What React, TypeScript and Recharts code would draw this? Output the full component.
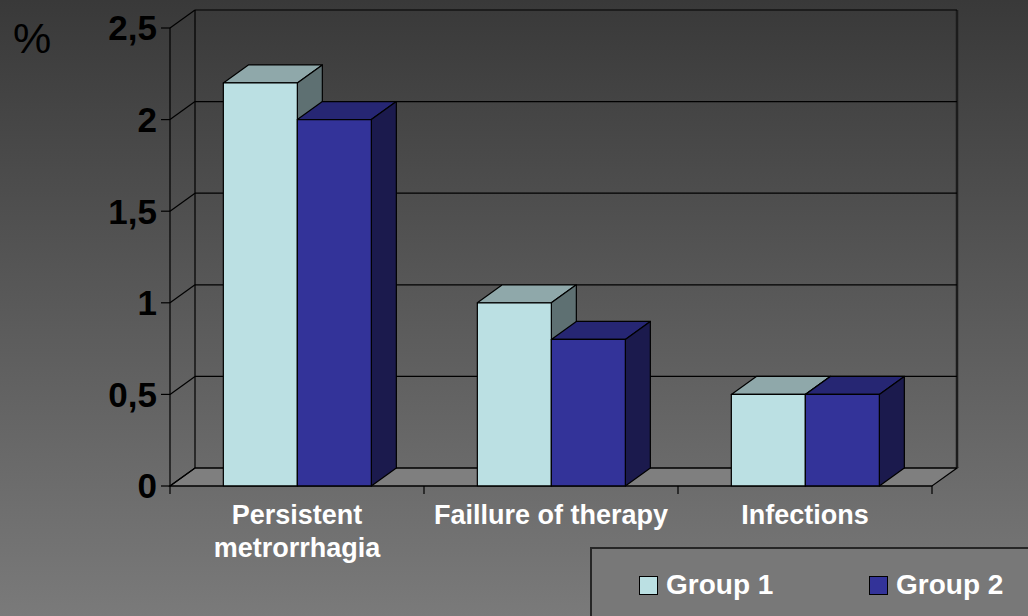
import React from 'react';
import { BarChart, Bar, XAxis, YAxis, ReferenceArea, ReferenceLine, Legend } from 'recharts';

const categories = ['Persistent metrorrhagia', 'Faillure of therapy', 'Infections'];
const group1 = [2.2, 1.0, 0.5];
const group2 = [2.0, 0.8, 0.5];
const seriesNames = ['Group 1', 'Group 2'];
const yTicks = [0, 0.5, 1, 1.5, 2, 2.5];
const yTickLabels = ['0', '0,5', '1', '1,5', '2', '2,5'];
const yUnit = '%';

const data = categories.map((c, i) => ({ category: c, g1: group1[i], g2: group2[i] }));

const W = 1028;
const H = 616;
const M = { top: 28, right: 96, bottom: 30, left: 0 };
const Y_AXIS_W = 170;
const X_AXIS_H = 100;
const BAND = (W - M.left - M.right - Y_AXIS_W) / categories.length;
const DX = 25;
const DY = -18;
const FONT = '"Liberation Sans", Arial, Helvetica, sans-serif';
const CAT_FONT_SIZE = 27;
const CAT_WRAP = 245;

const COLORS = {
  g1: { front: '#BBE0E3', top: '#8FA8AA', side: '#5E7072' },
  g2: { front: '#333399', top: '#262673', side: '#1B1A4D' },
};

const pts = (arr: number[][]) => arr.map((p) => p.join(',')).join(' ');

let measureCtx: CanvasRenderingContext2D | null = null;
function measure(text: string): number {
  if (typeof document === 'undefined') return text.length * CAT_FONT_SIZE * 0.6;
  if (!measureCtx) {
    const c = document.createElement('canvas');
    measureCtx = c.getContext('2d');
  }
  if (!measureCtx) return text.length * CAT_FONT_SIZE * 0.6;
  measureCtx.font = `bold ${CAT_FONT_SIZE}px ${FONT}`;
  return measureCtx.measureText(text).width;
}

function wrapWords(text: string, maxW: number): string[] {
  const words = text.split(' ');
  const lines: string[] = [];
  let cur = '';
  words.forEach((w) => {
    const next = cur ? cur + ' ' + w : w;
    if (cur && measure(next) > maxW) {
      lines.push(cur);
      cur = w;
    } else {
      cur = next;
    }
  });
  if (cur) lines.push(cur);
  return lines;
}

function Box3D(props: any) {
  const { x, y, width: w, height: h, colors } = props;
  if (w == null || h == null || isNaN(x) || isNaN(y)) return null;
  return (
    <g stroke="#000" strokeWidth={1.2} strokeLinejoin="round">
      <polygon points={pts([[x, y], [x + DX, y + DY], [x + w + DX, y + DY], [x + w, y]])} fill={colors.top} />
      <polygon points={pts([[x + w, y], [x + w + DX, y + DY], [x + w + DX, y + h + DY], [x + w, y + h]])} fill={colors.side} />
      <rect x={x} y={y} width={w} height={h} fill={colors.front} />
    </g>
  );
}

function Walls(props: any) {
  const { x, y, width: w, height: h } = props;
  if (x == null) return null;
  const bx = x + DX;
  const by = y + DY;
  return (
    <g>
      <polygon
        points={pts([[x, y + h], [x + w, y + h], [x + w + DX, y + h + DY], [x + DX, y + h + DY]])}
        fill="#7f7f7f"
        stroke="#000"
        strokeWidth={1.2}
      />
      <line x1={bx} y1={by} x2={bx} y2={by + h} stroke="#000" strokeWidth={1.2} />
      <line x1={bx + w} y1={by} x2={bx + w} y2={by + h} stroke="#1c1c1c" strokeWidth={2.5} />
    </g>
  );
}

function GridLine(p: any) {
  if (p.x1 == null) return null;
  return (
    <g stroke="#000" strokeWidth={1.2}>
      <line x1={p.x1 + DX} y1={p.y1 + DY} x2={p.x2 + DX} y2={p.y2 + DY} />
      <line x1={p.x1} y1={p.y1} x2={p.x1 + DX} y2={p.y1 + DY} />
    </g>
  );
}

function CatTick(props: any) {
  const { x, y, payload, index } = props;
  const half = BAND / 2;
  const last = index === categories.length - 1;
  const lines = wrapWords(String(payload.value), CAT_WRAP);
  return (
    <g>
      <line x1={x - half} y1={y} x2={x - half} y2={y + 8} stroke="#000" strokeWidth={1.2} />
      {last && <line x1={x + half} y1={y} x2={x + half} y2={y + 8} stroke="#000" strokeWidth={1.2} />}
      <text
        x={x}
        y={y + 38}
        textAnchor="middle"
        fill="#ffffff"
        fontSize={CAT_FONT_SIZE}
        fontWeight="bold"
        fontFamily={FONT}
      >
        {lines.map((l, i) => (
          <tspan key={i} x={x} dy={i === 0 ? 0 : 33}>
            {l}
          </tspan>
        ))}
      </text>
    </g>
  );
}

function LegendBox(props: any) {
  const payload = props.payload || [];
  return (
    <div
      style={{
        position: 'relative',
        width: 460,
        height: 90,
        background: '#787878',
        border: '2px solid #262626',
        boxSizing: 'border-box',
      }}
    >
      {payload.map((e: any, i: number) => (
        <div
          key={i}
          style={{ position: 'absolute', left: 47 + i * 230, top: 22, display: 'flex', alignItems: 'center' }}
        >
          <span
            style={{
              display: 'inline-block',
              width: 17,
              height: 17,
              background: e.color,
              border: '1px solid #000',
              marginRight: 8,
            }}
          />
          <span style={{ color: '#fff', fontFamily: FONT, fontWeight: 'bold', fontSize: 28, lineHeight: '28px' }}>
            {e.value}
          </span>
        </div>
      ))}
    </div>
  );
}

export default function App() {
  return (
    <div
      style={{
        position: 'absolute',
        left: 0,
        top: 0,
        width: W,
        height: H,
        overflow: 'hidden',
        background: 'linear-gradient(to bottom, #393939 0%, #7a7a7a 100%)',
        fontFamily: FONT,
      }}
    >
      <div
        style={{
          position: 'absolute',
          left: 13,
          top: 17,
          fontSize: 43,
          lineHeight: '43px',
          fontFamily: FONT,
          color: '#000',
        }}
      >
        {yUnit}
      </div>
      <BarChart
        width={W}
        height={H}
        data={data}
        margin={M}
        barCategoryGap="21%"
        barGap={0}
        style={{ position: 'absolute', left: 0, top: 0 }}
      >
        <ReferenceArea y1={0} y2={2.5} shape={(p: any) => <Walls {...p} />} zIndex={-90} ifOverflow="visible" />
        {yTicks.map((v) => (
          <ReferenceLine key={v} y={v} shape={(p: any) => <GridLine {...p} />} zIndex={-80} ifOverflow="visible" />
        ))}
        <XAxis
          dataKey="category"
          height={X_AXIS_H}
          axisLine={{ stroke: '#000', strokeWidth: 1.2 }}
          tickLine={false}
          tickSize={0}
          tickMargin={0}
          interval={0}
          tick={(p: any) => <CatTick {...p} />}
        />
        <YAxis
          type="number"
          domain={[0, 2.5]}
          ticks={yTicks}
          interval={0}
          width={Y_AXIS_W}
          axisLine={{ stroke: '#000', strokeWidth: 1.2 }}
          tickLine={{ stroke: '#000', strokeWidth: 1.2 }}
          tickSize={9}
          tickMargin={4}
          tickFormatter={(v: number) => yTickLabels[yTicks.indexOf(v)]}
          tick={{ fill: '#000', fontSize: 35, fontWeight: 'bold', fontFamily: FONT }}
        />
        <Legend
          verticalAlign="middle"
          align="center"
          layout="horizontal"
          width={460}
          wrapperStyle={{ left: 590, top: 547, width: 460, height: 90 }}
          content={(p: any) => <LegendBox {...p} />}
        />
        <Bar
          dataKey="g1"
          name={seriesNames[0]}
          fill={COLORS.g1.front}
          isAnimationActive={false}
          shape={(p: any) => <Box3D {...p} colors={COLORS.g1} />}
        />
        <Bar
          dataKey="g2"
          name={seriesNames[1]}
          fill={COLORS.g2.front}
          isAnimationActive={false}
          shape={(p: any) => <Box3D {...p} colors={COLORS.g2} />}
        />
      </BarChart>
    </div>
  );
}
